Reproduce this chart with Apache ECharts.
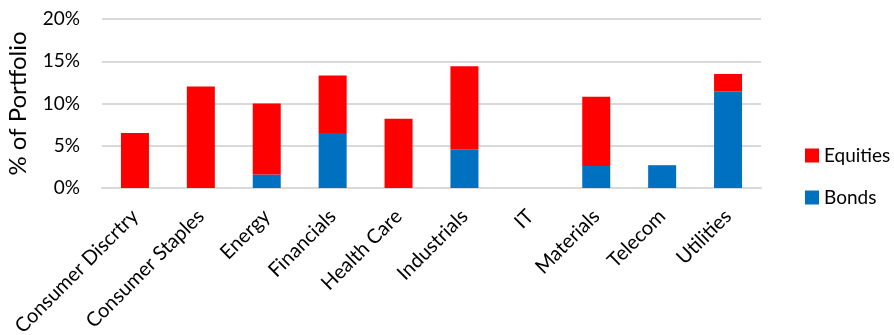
<!DOCTYPE html>
<html>
<head>
<meta charset="utf-8">
<script src="https://cdn.jsdelivr.net/npm/echarts@6/dist/echarts.min.js"></script>
<style>
  html, body { margin: 0; padding: 0; background: #fff; }
  #chart { width: 894px; height: 335px; }
</style>
</head>
<body>
<div id="chart"></div>
<script>
// sectors on the x axis
const sectors = ['Consumer Discrtry', 'Consumer Staples', 'Energy', 'Financials', 'Health Care',
                 'Industrials', 'IT', 'Materials', 'Telecom', 'Utilities'];
// % of portfolio
const bonds    = [0, 0, 1.6, 6.5, 0, 4.6, 0, 2.6, 2.7, 11.4];
const equities = [6.5, 12.0, 8.4, 6.8, 8.2, 9.8, 0, 8.2, 0, 2.1];
const yTicks = [0, 5, 10, 15, 20];

const chart = echarts.init(document.getElementById('chart'));
const font = 'Lato, "Open Sans", sans-serif';

chart.setOption({
    animation: false,
    textStyle: { fontFamily: font },
    grid: { left: 102, right: 133, top: 19, bottom: 147, outerBoundsMode: 'none' },
    legend: {
        orient: 'vertical',
        left: 800,
        top: 141,
        itemWidth: 14,
        itemHeight: 14,
        itemGap: 23,
        icon: 'rect',
        data: ['Equities', 'Bonds'],
        textStyle: { fontSize: 19, lineHeight: 14, color: '#000', fontFamily: font }
    },
    xAxis: {
        type: 'category',
        data: sectors,
        axisTick: { show: false },
        axisLine: { lineStyle: { color: '#d9d9d9', width: 2 } },
        axisLabel: { rotate: 45, fontSize: 20, color: '#000', margin: 25, interval: 0, fontFamily: font }
    },
    yAxis: {
        type: 'value',
        min: yTicks[0],
        max: yTicks[yTicks.length - 1],
        interval: 5,
        name: '% of Portfolio',
        nameLocation: 'center',
        nameGap: 72,
        nameRotate: 90,
        nameTextStyle: { fontSize: 24, color: '#000', fontFamily: font },
        axisLabel: { formatter: '{value}%', fontSize: 19, color: '#000', margin: 22, fontFamily: font },
        splitLine: { lineStyle: { color: '#d9d9d9', width: 2 } },
        axisLine: { show: false },
        axisTick: { show: false }
    },
    series: [
        {
            name: 'Bonds',
            type: 'bar',
            stack: 'total',
            barWidth: 28,
            itemStyle: { color: '#0070c0' },
            data: bonds
        },
        {
            name: 'Equities',
            type: 'bar',
            stack: 'total',
            barWidth: 28,
            itemStyle: { color: '#ff0000' },
            data: equities
        }
    ]
});
</script>
</body>
</html>
